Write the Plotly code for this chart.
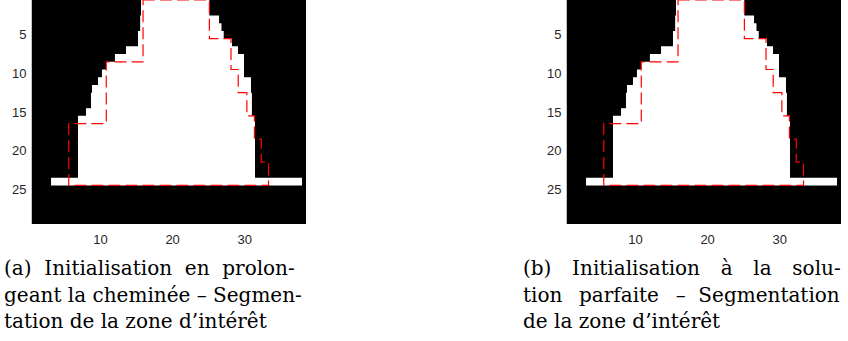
import plotly.graph_objects as go

# ---------------- data (image rows 1..24 of a 29 x 38 binary mask) ----------------
rows = list(range(1, 25))
# left / right boundary of the white region on each row (in column units)
left_edge = [15.62, 15.62, 15.5, 15.5, 15.2, 15.2, 13.54, 12.0, 10.76, 10.2, 9.65, 8.82,
             8.68, 8.68, 7.99, 6.88, 6.88, 6.88, 6.88, 6.88, 6.88, 6.88, 6.88, 3.14]
right_edge = [25.09, 25.09, 26.44, 26.78, 27.09, 28.24, 29.07, 29.9, 29.9, 29.9, 30.87, 30.87,
              31.0, 31.0, 31.0, 31.43, 31.43, 31.43, 31.43, 31.43, 31.43, 31.43, 31.43, 37.95]

# segmentation contour (red dashed), as a closed staircase
contour_x = [15.9, 25.1, 25.1, 28.1, 28.1, 29.1, 29.1, 30.3, 30.3, 31.35, 31.35, 32.3, 32.3,
             33.3, 33.3, 5.6, 5.6, 10.8, 10.8, 15.9, 15.9]
contour_y = [0.5, 0.5, 5.5, 5.5, 9.5, 9.5, 12.5, 12.5, 15.5, 15.5, 18.5, 18.5, 21.5,
             21.5, 24.5, 24.5, 16.5, 16.5, 8.5, 8.5, 0.5]

x_ticks = [10, 20, 30]
y_ticks = [5, 10, 15, 20, 25]
x_range = [0.5, 38.5]
y_range = [29.5, 0.5]

# caption lines; gaps are widened to mimic LaTeX justification
NB = "\u00a0"
TH = "\u2009"
G1 = " " + NB + TH + TH
G2 = " " + NB + TH
captions_a = ["(a) " + NB + "Initialisation " + NB + "en " + NB + "prolon-",
              "geant la cheminée – Segmen-",
              "tation de la zone d’intérêt"]
captions_b = ["(b)" + G1 + "Initialisation" + G1 + "à" + G1 + "la" + G1 + "solu-",
              "tion" + G2 + "parfaite" + G2 + "– " + NB + "Segmentation",
              "de la zone d’intérêt"]

# ---------------- build polygon of white region ----------------
poly_x, poly_y = [], []
for r, re in zip(rows, right_edge):
    poly_x += [re, re]
    poly_y += [r - 0.5, r + 0.5]
for r, le in zip(reversed(rows), reversed(left_edge)):
    poly_x += [le, le]
    poly_y += [r + 0.5, r - 0.5]
poly_x.append(poly_x[0])
poly_y.append(poly_y[0])

W, H = 848, 341
fig = go.Figure()

panels = [("x", "y", 32, 306), ("x2", "y2", 567, 841)]
for xa, ya, _, _ in panels:
    fig.add_trace(go.Scatter(x=poly_x, y=poly_y, xaxis=xa, yaxis=ya, mode="lines",
                             fill="toself", fillcolor="white", line=dict(width=0, color="white"),
                             hoverinfo="skip", showlegend=False))
    fig.add_trace(go.Scatter(x=contour_x, y=contour_y, xaxis=xa, yaxis=ya, mode="lines",
                             line=dict(color="#ff0000", width=1.2, dash="12px,5px"),
                             hoverinfo="skip", showlegend=False))

tickfont = dict(family="Liberation Sans, Arial, sans-serif", size=13, color="#262626")
for i, (xa, ya, x0, x1) in enumerate(panels):
    sx = "xaxis" if i == 0 else "xaxis2"
    sy = "yaxis" if i == 0 else "yaxis2"
    fig.layout[sx] = dict(domain=[x0 / W, x1 / W], range=x_range, anchor=ya,
                          tickvals=x_ticks, ticks="outside", ticklen=3,
                          tickcolor="rgba(0,0,0,0)", showgrid=False, zeroline=False,
                          showline=False, tickfont=tickfont, automargin=False, fixedrange=True)
    fig.layout[sy] = dict(domain=[1 - 224 / H, 1], range=y_range, anchor=xa,
                          tickvals=y_ticks, ticks="outside", ticklen=2,
                          tickcolor="rgba(0,0,0,0)", showgrid=False, zeroline=False,
                          showline=True, linecolor="#c4c4c4", linewidth=1,
                          tickfont=tickfont, automargin=False, fixedrange=True)

capfont = dict(family="DejaVu Serif, serif", size=20, color="black")
line_y = [268, 295, 321]
for caps, x0 in [(captions_a, 2), (captions_b, 521)]:
    for txt, py in zip(caps, line_y):
        fig.add_annotation(text=txt, x=x0 / W, y=1 - py / H, xref="paper", yref="paper",
                           xanchor="left", yanchor="middle", showarrow=False, font=capfont)

fig.update_layout(width=W, height=H, margin=dict(l=0, r=0, t=0, b=0),
                  plot_bgcolor="black", paper_bgcolor="white")
fig.write_html("out.html", config={"displayModeBar": False},
               post_script="document.body.style.margin='0px';document.body.style.padding='0px';")
